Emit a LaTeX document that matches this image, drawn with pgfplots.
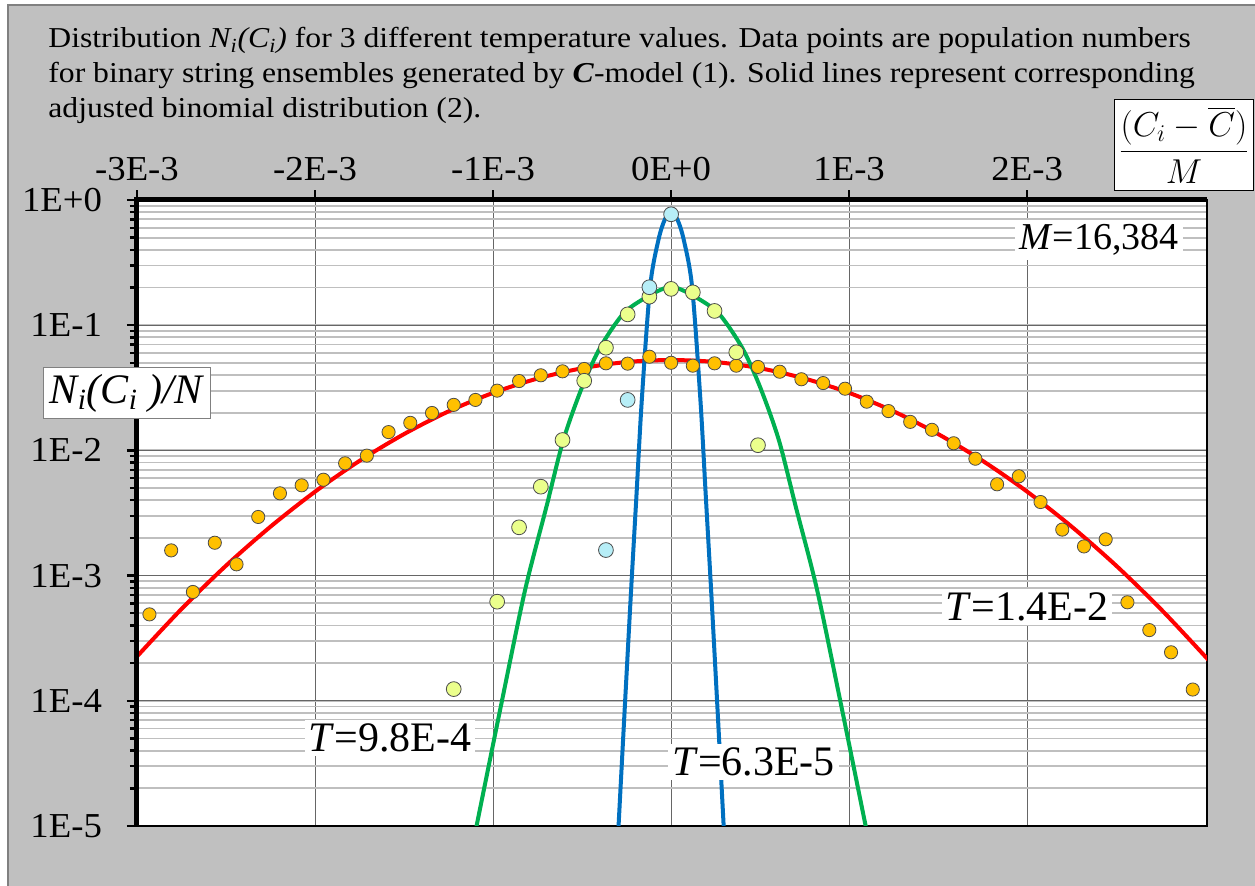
\documentclass[border=0pt]{standalone}
\usepackage{amsmath}
\usepackage{fontspec}
\setmainfont{Liberation Serif}
\newfontfamily\widefont{Liberation Serif}[FakeStretch=1.1]
\newfontfamily\tickfont{Liberation Serif}[FakeStretch=1.05]
\usepackage{pgfplots}
\usepackage{pgfplotstable}
\pgfplotsset{compat=1.18}

\definecolor{panelgray}{HTML}{C0C0C0}
\definecolor{orangept}{HTML}{FFC000}
\definecolor{limept}{HTML}{EBFF8C}
\definecolor{bluept}{HTML}{B7EEF7}
\definecolor{redline}{HTML}{FF0000}
\definecolor{greenline}{HTML}{00B050}
\definecolor{blueline}{HTML}{0070C0}

% T = 1.4E-2 (population data)
\pgfplotstableread{
x y
-2.930e-3 4.9e-4
-2.808e-3 1.59e-3
-2.686e-3 7.4e-4
-2.563e-3 1.83e-3
-2.441e-3 1.23e-3
-2.319e-3 2.94e-3
-2.197e-3 4.54e-3
-2.075e-3 5.26e-3
-1.953e-3 5.83e-3
-1.831e-3 7.89e-3
-1.709e-3 9.08e-3
-1.587e-3 1.40e-2
-1.465e-3 1.66e-2
-1.343e-3 1.99e-2
-1.221e-3 2.31e-2
-1.099e-3 2.53e-2
-0.977e-3 3.00e-2
-0.854e-3 3.58e-2
-0.732e-3 3.98e-2
-0.610e-3 4.28e-2
-0.488e-3 4.47e-2
-0.366e-3 4.96e-2
-0.244e-3 4.93e-2
-0.122e-3 5.60e-2
0 5.01e-2
0.122e-3 4.75e-2
0.244e-3 4.96e-2
0.366e-3 4.75e-2
0.488e-3 4.64e-2
0.610e-3 4.25e-2
0.732e-3 3.70e-2
0.854e-3 3.45e-2
0.977e-3 3.11e-2
1.099e-3 2.45e-2
1.221e-3 2.06e-2
1.343e-3 1.69e-2
1.465e-3 1.46e-2
1.587e-3 1.14e-2
1.709e-3 8.58e-3
1.831e-3 5.36e-3
1.953e-3 6.21e-3
2.075e-3 3.87e-3
2.197e-3 2.33e-3
2.319e-3 1.71e-3
2.441e-3 1.95e-3
2.563e-3 6.12e-4
2.686e-3 3.67e-4
2.808e-3 2.44e-4
2.930e-3 1.23e-4
}\dataA

% T = 9.8E-4
\pgfplotstableread{
x y
-1.221e-3 1.24e-4
-0.977e-3 6.19e-4
-0.854e-3 2.43e-3
-0.732e-3 5.13e-3
-0.610e-3 1.21e-2
-0.488e-3 3.60e-2
-0.366e-3 6.61e-2
-0.244e-3 1.22e-1
-0.122e-3 1.69e-1
0 1.95e-1
0.122e-3 1.83e-1
0.244e-3 1.30e-1
0.366e-3 6.08e-2
0.488e-3 1.10e-2
}\dataB

% T = 6.3E-5
\pgfplotstableread{
x y
-0.366e-3 1.60e-3
-0.244e-3 2.53e-2
-0.122e-3 2.01e-1
0 7.69e-1
}\dataC

\begin{document}
\begin{tikzpicture}
\useasboundingbox (-68.5pt,-30pt) rectangle (559pt,413pt);
\fill[white] (-68.5pt,-30pt) rectangle (559pt,413pt);
\filldraw[fill=panelgray, draw=gray, line width=0.6pt] (-64.5pt,-32pt) rectangle (561pt,410.5pt);

\begin{scope}[every node/.style={anchor=base west, inner sep=0pt, font=\widefont\fontsize{14.4}{16}\selectfont}]
\node at (-44.5pt,389pt) {Distribution {\itshape N\textsubscript{i}(C\textsubscript{i})} for 3 different temperature values. Data points are population numbers};
\node at (-44.5pt,371.5pt) {for binary string ensembles generated by \textbf{\textit{C}}-model (1). Solid lines represent corresponding};
\node at (-44.5pt,354pt) {adjusted binomial distribution (2).};
\end{scope}

\begin{axis}[
  at={(0,0)}, anchor=south west,
  scale only axis, width=535pt, height=313pt,
  axis background/.style={fill=white},
  xmin=-3e-3, xmax=3.01e-3,
  ymode=log, ymin=1e-5, ymax=1,
  scaled x ticks=false,
  xtick={-3e-3,-2e-3,-1e-3,0,1e-3,2e-3},
  xticklabels={-3E-3,-2E-3,-1E-3,0E+0,1E-3,2E-3},
  ytick={1e-5,1e-4,1e-3,1e-2,1e-1,1},
  yticklabels={1E-5,1E-4,1E-3,1E-2,1E-1,1E+0},
  xtick pos=right, xticklabel pos=right,
  ytick pos=left,
  tick align=outside,
  major tick length=5pt, minor tick length=3.5pt,
  every tick/.style={black, line width=1.2pt},
  xmajorgrids, ymajorgrids, yminorgrids,
  major grid style={black!60, line width=0.5pt},
  minor grid style={black!25, line width=0.9pt},
  axis line style={black, line width=1.25pt},
  ticklabel style={font=\tickfont\fontsize{17.5}{18}\selectfont},
  xticklabel style={yshift=1pt},
  yticklabel style={xshift=-9pt},
  clip=true,
]
\addplot[redline, line width=2pt, smooth] coordinates {
(-3.05e-3,1.88e-4) (-3.0e-3,2.26e-4) (-2.75e-3,5.41e-4) (-2.5e-3,1.20e-3)
(-2.25e-3,2.46e-3) (-2.0e-3,4.68e-3) (-1.75e-3,8.25e-3) (-1.5e-3,1.35e-2)
(-1.25e-3,2.05e-2) (-1.0e-3,2.88e-2) (-0.75e-3,3.75e-2) (-0.5e-3,4.53e-2)
(-0.25e-3,5.08e-2) (0,5.27e-2) (0.25e-3,5.08e-2) (0.5e-3,4.53e-2)
(0.75e-3,3.75e-2) (1.0e-3,2.88e-2) (1.25e-3,2.05e-2) (1.5e-3,1.35e-2)
(1.75e-3,8.25e-3) (2.0e-3,4.68e-3) (2.25e-3,2.46e-3) (2.5e-3,1.20e-3)
(2.75e-3,5.41e-4) (3.0e-3,2.26e-4) (3.05e-3,1.88e-4)
};
\addplot[greenline, line width=2pt, smooth] coordinates {
(-1.12e-3,6.4e-6) (-1.0916e-3,1.02e-5) (-0.9494e-3,1.01e-4) (-0.8202e-3,7.67e-4)
(-0.70e-3,3.56e-3) (-0.6051e-3,1.21e-2) (-0.50e-3,3.2e-2) (-0.3989e-3,6.61e-2)
(-0.2697e-3,0.123) (-0.15e-3,0.164) (-0.0618e-3,0.191) (0,0.203)
(0.0618e-3,0.191) (0.15e-3,0.164) (0.2697e-3,0.123) (0.3989e-3,6.61e-2)
(0.50e-3,3.2e-2) (0.6051e-3,1.21e-2) (0.70e-3,3.56e-3) (0.8202e-3,7.67e-4)
(0.9494e-3,1.01e-4) (1.0916e-3,1.02e-5) (1.12e-3,6.4e-6)
};
\addplot[blueline, line width=2pt, smooth] coordinates {
(-0.31e-3,4e-6) (-0.2949e-3,1.02e-5) (-0.258e-3,1.01e-4) (-0.2247e-3,7.67e-4)
(-0.195e-3,4.27e-3) (-0.1646e-3,2.53e-2) (-0.118e-3,0.202) (-0.0713e-3,0.479)
(-0.035e-3,0.70) (0,0.80)
(0.035e-3,0.70) (0.0713e-3,0.479) (0.118e-3,0.202) (0.1646e-3,2.53e-2)
(0.195e-3,4.27e-3) (0.2247e-3,7.67e-4) (0.258e-3,1.01e-4) (0.2949e-3,1.02e-5)
(0.31e-3,4e-6)
};
\addplot[only marks, mark=*, mark size=3.3pt, mark options={fill=orangept, draw=black!70, line width=0.4pt}] table[x=x, y=y] {\dataA};
\addplot[only marks, mark=*, mark size=3.7pt, mark options={fill=limept, draw=black!70, line width=0.4pt}] table[x=x, y=y] {\dataB};
\addplot[only marks, mark=*, mark size=3.7pt, mark options={fill=bluept, draw=black!70, line width=0.4pt}] table[x=x, y=y] {\dataC};
\end{axis}

\draw[black, line width=2.5pt] (0,0) -- (0,313pt) -- (535pt,313pt);

\node[fill=white, inner sep=2pt, font=\fontsize{19}{20}\selectfont] at (481pt,293pt) {\textit{M}=16,384};
\node[fill=white, inner sep=2pt, font=\fontsize{21}{22}\selectfont] at (445pt,109.5pt) {\textit{T}=1.4E-2};
\node[fill=white, inner sep=2pt, font=\fontsize{21}{22}\selectfont] at (126.5pt,44pt) {\textit{T}=9.8E-4};
\node[fill=white, inner sep=2pt, font=\fontsize{21}{22}\selectfont] at (308.3pt,32pt) {\textit{T}=6.3E-5};
\node[fill=white, draw=gray, line width=0.5pt, inner sep=3pt, font=\fontsize{21}{22}\selectfont] at (-5pt,216.5pt) {\textit{N\textsubscript{i}(C\textsubscript{i} )/N}};
\node[fill=white, draw=black, line width=0.8pt, minimum width=69.5pt, minimum height=45.5pt, inner sep=1pt, font=\fontsize{16.5}{17}\selectfont] at (523.5pt,340.5pt) {$\dfrac{(C_i-\overline{C})}{M}$};
\end{tikzpicture}
\end{document}
